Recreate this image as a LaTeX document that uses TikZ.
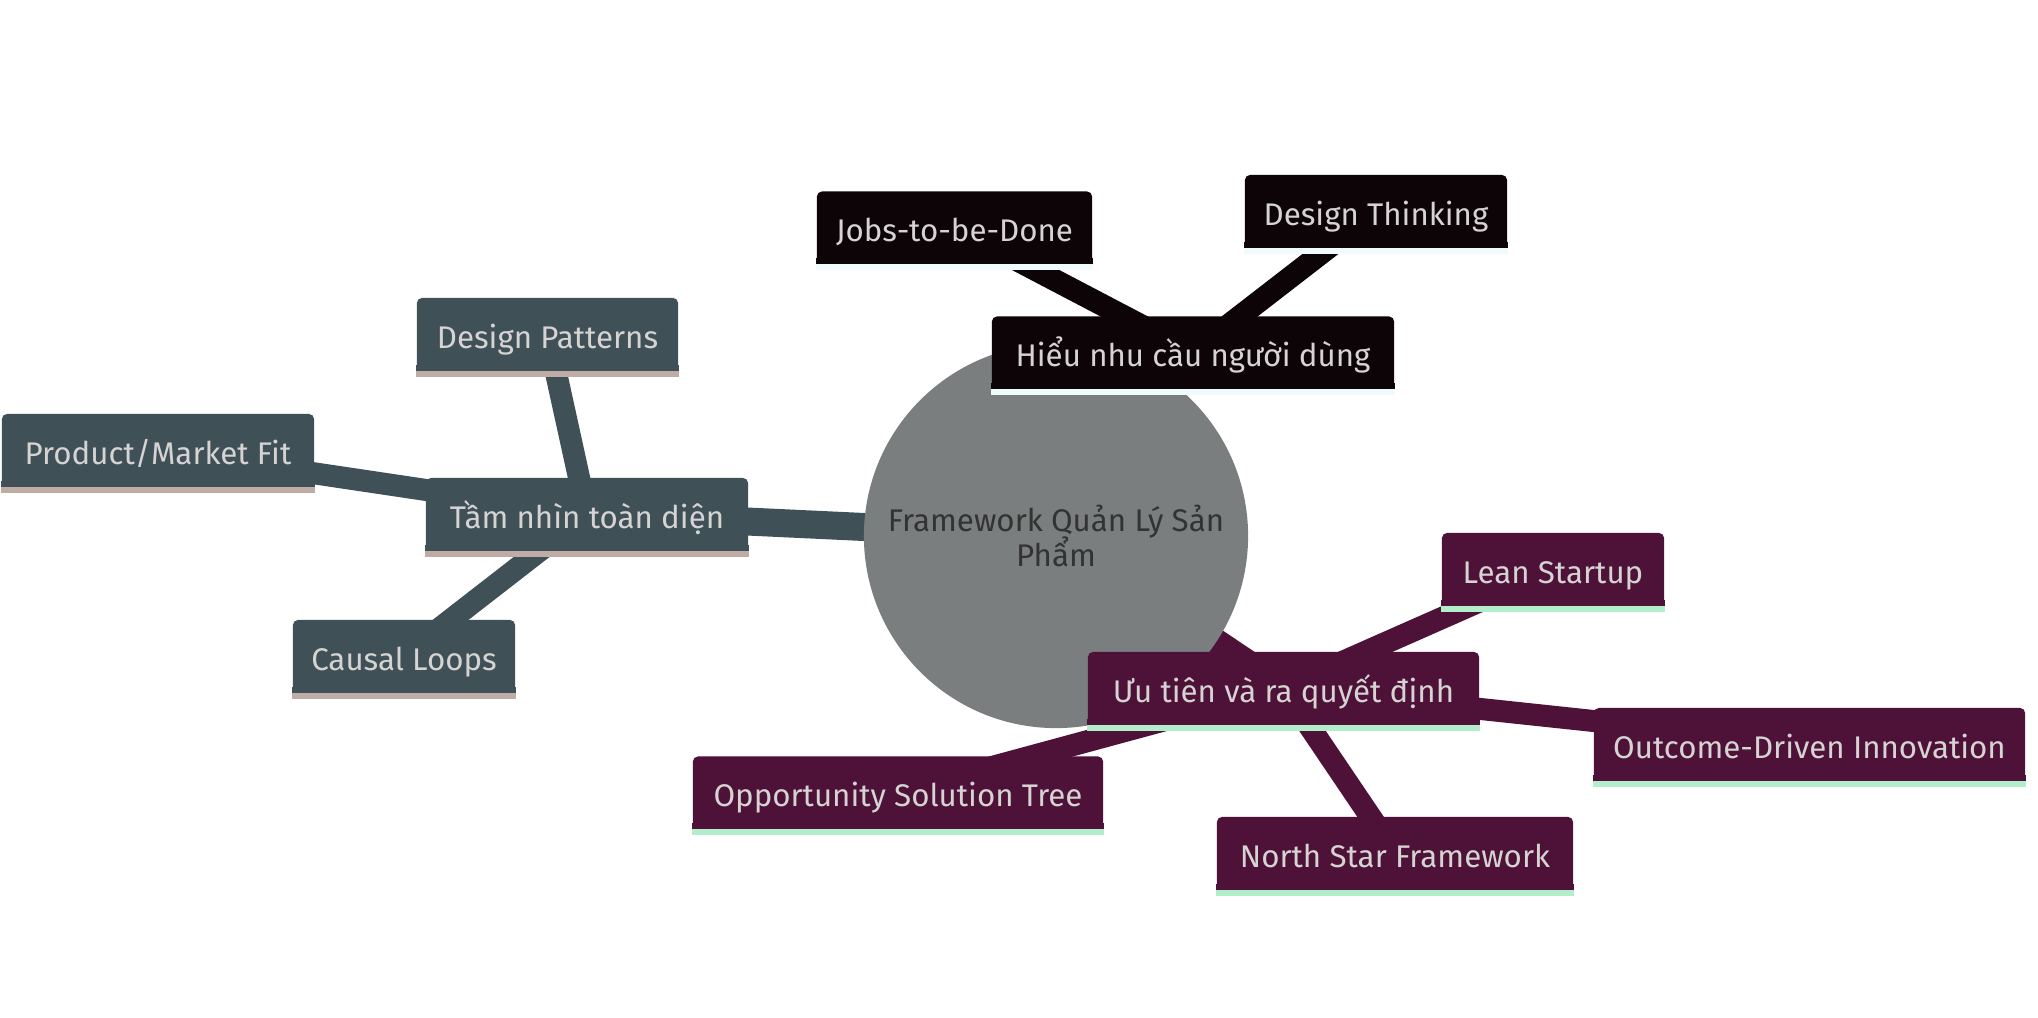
\documentclass[tikz,border=0pt]{standalone}
\usepackage{fontspec}
\setmainfont{Fira Sans}
\usepackage{tikz}
\usetikzlibrary{backgrounds}
\usepackage{xcolor}
\definecolor{mmgray}{HTML}{7B7E7E}
\definecolor{mmink}{HTML}{0C0407}
\definecolor{mmslate}{HTML}{3F5157}
\definecolor{mmplum}{HTML}{4E1137}
\definecolor{mminkline}{HTML}{F0FCFB}
\definecolor{mmslateline}{HTML}{C0ACA6}
\definecolor{mmplumline}{HTML}{B2EECC}
\definecolor{mmtext}{HTML}{D6D3D3}
\newcommand{\mmfont}{\fontsize{8.9}{10}\selectfont\lineskiplimit=-\maxdimen}
\tikzset{
  mmroot/.style={circle, fill=mmgray, minimum size=3.84cm, inner sep=0pt, align=center, text=black!80, font=\mmfont},
  mmbox/.style={rectangle, rounded corners=0.05cm, minimum height=0.72cm, inner sep=0pt, text height=0.28cm, text depth=0cm, text=mmtext, font=\mmfont},
  mmtrunk/.style={line width=0.28cm},
  mmedge/.style={line width=0.22cm},
}

\begin{document}
\begin{tikzpicture}[x=0.01cm, y=-0.01cm]
  \useasboundingbox (0,0) rectangle (2038,1018);

  % Root
  \node[mmroot] (root) at (1056,536) {Framework Quản Lý Sản\\Phẩm};

  % Branches
  \node[mmbox, fill=mmink, minimum width=4.02cm] (hieu) at (1193,352.5) {Hiểu nhu cầu người dùng};
  \node[mmbox, fill=mmslate, minimum width=3.22cm] (tam) at (587,514) {Tầm nhìn toàn diện};
  \node[mmbox, fill=mmplum, minimum width=3.91cm] (uutien) at (1283.5,688) {Ưu tiên và ra quyết định};

  % Leaves
  \node[mmbox, fill=mmink, minimum width=2.75cm] (jobs) at (954.5,227.5) {Jobs-to-be-Done};
  \node[mmbox, fill=mmink, minimum width=2.62cm] (dthink) at (1376,211) {Design Thinking};
  \node[mmbox, fill=mmslate, minimum width=2.61cm] (dpat) at (547.5,334) {Design Patterns};
  \node[mmbox, fill=mmslate, minimum width=3.12cm] (pmf) at (158,450) {Product/Market Fit};
  \node[mmbox, fill=mmslate, minimum width=2.22cm] (causal) at (404,656) {Causal Loops};
  \node[mmbox, fill=mmplum, minimum width=2.22cm] (lean) at (1553,569) {Lean Startup};
  \node[mmbox, fill=mmplum, minimum width=4.31cm] (odi) at (1809.5,744) {Outcome-Driven Innovation};
  \node[mmbox, fill=mmplum, minimum width=4.10cm] (ost) at (898,792.5) {Opportunity Solution Tree};
  \node[mmbox, fill=mmplum, minimum width=3.56cm] (nsf) at (1395,853) {North Star Framework};

  % Square bottoms and underline strips
  \foreach \n/\c/\s in {hieu/mmink/mminkline, jobs/mmink/mminkline, dthink/mmink/mminkline,
      tam/mmslate/mmslateline, dpat/mmslate/mmslateline, pmf/mmslate/mmslateline, causal/mmslate/mmslateline,
      uutien/mmplum/mmplumline, lean/mmplum/mmplumline, odi/mmplum/mmplumline, ost/mmplum/mmplumline, nsf/mmplum/mmplumline} {
    \fill[\c] ([yshift=0.06cm]\n.south west) rectangle (\n.south east);
    \fill[\s] (\n.south west) rectangle ([yshift=-0.06cm]\n.south east);
  }

  % Edges behind everything
  \begin{pgfonlayer}{background}
    \draw[mmtrunk, mmink] (root.center) -- (hieu.center);
    \draw[mmtrunk, mmslate] (root.center) -- (tam.center);
    \draw[mmtrunk, mmplum] (root.center) -- (uutien.center);
    \draw[mmedge, mmink] (hieu.center) -- (jobs.center);
    \draw[mmedge, mmink] (hieu.center) -- (dthink.center);
    \draw[mmedge, mmslate] (tam.center) -- (dpat.center);
    \draw[mmedge, mmslate] (tam.center) -- (pmf.center);
    \draw[mmedge, mmslate] (tam.center) -- (causal.center);
    \draw[mmedge, mmplum] (uutien.center) -- (lean.center);
    \draw[mmedge, mmplum] (uutien.center) -- (odi.center);
    \draw[mmedge, mmplum] (uutien.center) -- (ost.center);
    \draw[mmedge, mmplum] (uutien.center) -- (nsf.center);
  \end{pgfonlayer}
\end{tikzpicture}
\end{document}
